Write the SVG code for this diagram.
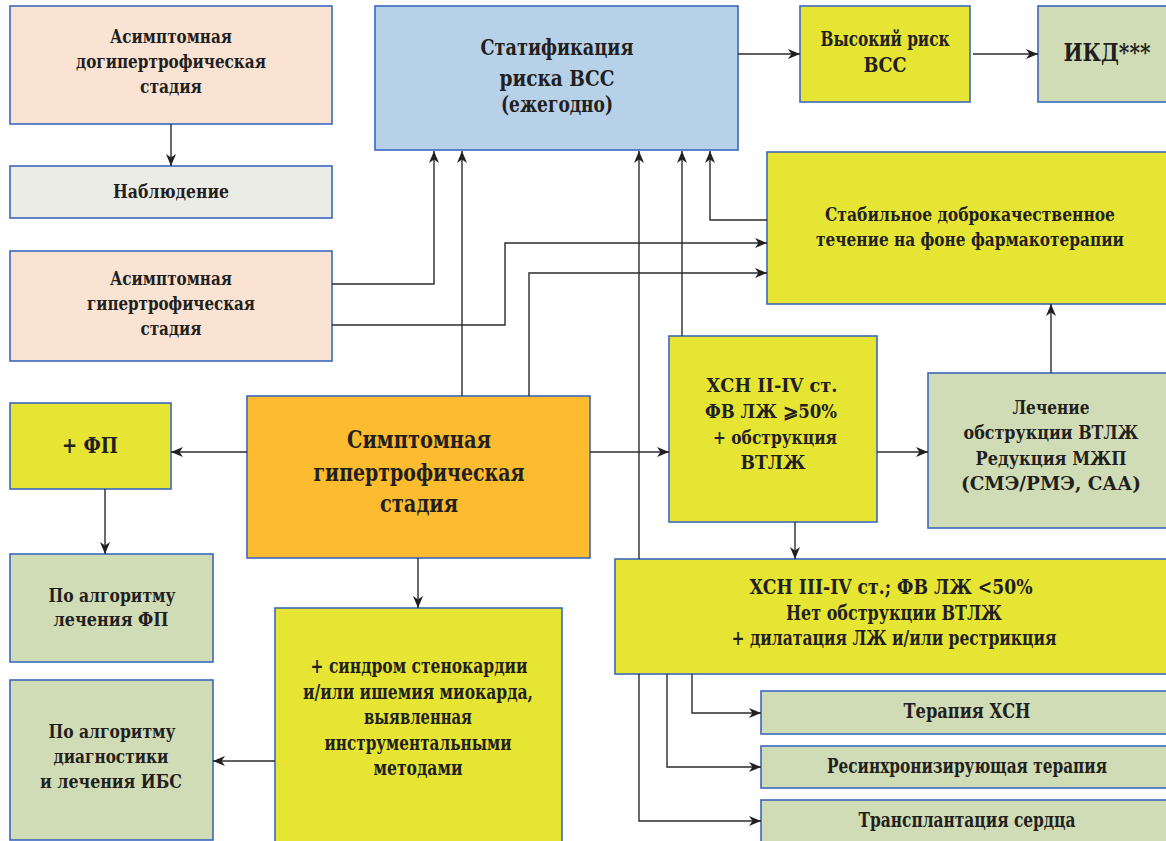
<svg xmlns="http://www.w3.org/2000/svg" width="1166" height="841" viewBox="0 0 1166 841">
  <defs>
    <style>
      .box { stroke: #3a68bd; stroke-width: 1.6; }
      .peach { fill: #fae3d3; }
      .grey { fill: #ecece7; }
      .blue { fill: #b7d1e8; }
      .yellow { fill: #e6e534; }
      .sage { fill: #d0dcb5; }
      .orange { fill: #fdbc2f; }
      text { font-family: "DejaVu Serif Condensed", "DejaVu Serif", serif; font-weight: bold; fill: #231f20; text-anchor: middle; }
      .s18 { font-size: 18.5px; }
      .s19 { font-size: 19px; }
      .s20 { font-size: 20px; }
      .s22 { font-size: 22px; }
      .s24 { font-size: 24px; }
      .s25 { font-size: 25px; }
      .conn path { fill: none; stroke: #2b2b2b; stroke-width: 1.4; }
    </style>
    <marker id="arrow" viewBox="0 0 12 10" refX="12" refY="5" markerWidth="12" markerHeight="10" markerUnits="userSpaceOnUse" orient="auto">
      <path d="M0,0 L12,5 L0,10 L3.5,5 z" fill="#231f20"/>
    </marker>
  </defs>

  <rect width="1166" height="841" fill="#ffffff"/>

  <!-- nodes -->
  <g id="asym-pre">
    <rect class="box peach" x="10" y="6" width="322" height="118"/>
    <text class="s19" x="171" y="43" textLength="122" lengthAdjust="spacingAndGlyphs">Асимптомная</text>
    <text class="s19" x="171" y="68" textLength="190" lengthAdjust="spacingAndGlyphs">догипертрофическая</text>
    <text class="s19" x="171" y="93" textLength="62" lengthAdjust="spacingAndGlyphs">стадия</text>
  </g>
  <g id="observation">
    <rect class="box grey" x="10" y="166" width="322" height="52"/>
    <text class="s19" x="171" y="198" textLength="116" lengthAdjust="spacingAndGlyphs">Наблюдение</text>
  </g>
  <g id="risk-strat">
    <rect class="box blue" x="375" y="6" width="363" height="144"/>
    <text class="s22" x="557" y="55" textLength="153" lengthAdjust="spacingAndGlyphs">Статификация</text>
    <text class="s22" x="557" y="86" textLength="115" lengthAdjust="spacingAndGlyphs">риска ВСС</text>
    <text class="s22" x="557" y="112" textLength="112" lengthAdjust="spacingAndGlyphs">(ежегодно)</text>
  </g>
  <g id="high-risk">
    <rect class="box yellow" x="800" y="6" width="170" height="96"/>
    <text class="s20" x="885" y="46" textLength="129" lengthAdjust="spacingAndGlyphs">Высокий риск</text>
    <text class="s20" x="885" y="72" textLength="43" lengthAdjust="spacingAndGlyphs">ВСС</text>
  </g>
  <g id="icd">
    <rect class="box sage" x="1038" y="6" width="140" height="96"/>
    <text class="s24" x="1107" y="61" textLength="87" lengthAdjust="spacingAndGlyphs">ИКД***</text>
  </g>
  <g id="stable">
    <rect class="box yellow" x="767" y="152" width="410" height="152"/>
    <text class="s19" x="970" y="221" textLength="290" lengthAdjust="spacingAndGlyphs">Стабильное доброкачественное</text>
    <text class="s19" x="970" y="246" textLength="308" lengthAdjust="spacingAndGlyphs">течение на фоне фармакотерапии</text>
  </g>
  <g id="asym-hyper">
    <rect class="box peach" x="10" y="251" width="322" height="110"/>
    <text class="s19" x="171" y="285" textLength="122" lengthAdjust="spacingAndGlyphs">Асимптомная</text>
    <text class="s19" x="171" y="310" textLength="168" lengthAdjust="spacingAndGlyphs">гипертрофическая</text>
    <text class="s19" x="171" y="335" textLength="61" lengthAdjust="spacingAndGlyphs">стадия</text>
  </g>
  <g id="sympt-hyper">
    <rect class="box orange" x="247" y="396" width="343" height="162"/>
    <text class="s25" x="419" y="448" textLength="144" lengthAdjust="spacingAndGlyphs">Симптомная</text>
    <text class="s25" x="419" y="481" textLength="211" lengthAdjust="spacingAndGlyphs">гипертрофическая</text>
    <text class="s25" x="419" y="512" textLength="78" lengthAdjust="spacingAndGlyphs">стадия</text>
  </g>
  <g id="af">
    <rect class="box yellow" x="10" y="403" width="161" height="86"/>
    <text class="s22" x="90" y="453" textLength="56" lengthAdjust="spacingAndGlyphs">+ ФП</text>
  </g>
  <g id="af-algo">
    <rect class="box sage" x="10" y="554" width="203" height="108"/>
    <text class="s19" x="112" y="602" textLength="127" lengthAdjust="spacingAndGlyphs">По алгоритму</text>
    <text class="s19" x="111" y="626" textLength="115" lengthAdjust="spacingAndGlyphs">лечения ФП</text>
  </g>
  <g id="ihd-algo">
    <rect class="box sage" x="10" y="680" width="203" height="160"/>
    <text class="s19" x="112" y="738" textLength="127" lengthAdjust="spacingAndGlyphs">По алгоритму</text>
    <text class="s19" x="111" y="763" textLength="115" lengthAdjust="spacingAndGlyphs">диагностики</text>
    <text class="s19" x="111" y="788" textLength="142" lengthAdjust="spacingAndGlyphs">и лечения ИБС</text>
  </g>
  <g id="angina">
    <rect class="box yellow" x="275" y="608" width="287" height="240"/>
    <text class="s20" x="419" y="673" textLength="217" lengthAdjust="spacingAndGlyphs">+ синдром стенокардии</text>
    <text class="s20" x="418" y="699" textLength="230" lengthAdjust="spacingAndGlyphs">и/или ишемия миокарда,</text>
    <text class="s20" x="418" y="724" textLength="108" lengthAdjust="spacingAndGlyphs">выявленная</text>
    <text class="s20" x="418" y="750" textLength="187" lengthAdjust="spacingAndGlyphs">инструментальными</text>
    <text class="s20" x="418" y="775" textLength="89" lengthAdjust="spacingAndGlyphs">методами</text>
  </g>
  <g id="hf-obstr">
    <rect class="box yellow" x="669" y="336" width="208" height="186"/>
    <text class="s19" x="772" y="392" textLength="131" lengthAdjust="spacingAndGlyphs">ХСН II-IV ст.</text>
    <text class="s19" x="771" y="418" textLength="132" lengthAdjust="spacingAndGlyphs">ФВ ЛЖ ⩾50%</text>
    <text class="s19" x="775" y="444" textLength="124" lengthAdjust="spacingAndGlyphs">+ обструкция</text>
    <text class="s19" x="773" y="469" textLength="65" lengthAdjust="spacingAndGlyphs">ВТЛЖ</text>
  </g>
  <g id="obstr-treat">
    <rect class="box sage" x="928" y="373" width="250" height="155"/>
    <text class="s18" x="1051" y="414" textLength="77" lengthAdjust="spacingAndGlyphs">Лечение</text>
    <text class="s18" x="1051" y="439" textLength="175" lengthAdjust="spacingAndGlyphs">обструкции ВТЛЖ</text>
    <text class="s18" x="1051" y="465" textLength="151" lengthAdjust="spacingAndGlyphs">Редукция МЖП</text>
    <text class="s18" x="1051" y="490" textLength="180" lengthAdjust="spacingAndGlyphs">(СМЭ/РМЭ, САА)</text>
  </g>
  <g id="hf-dilat">
    <rect class="box yellow" x="615" y="559" width="562" height="115"/>
    <text class="s20" x="891" y="594" textLength="283" lengthAdjust="spacingAndGlyphs">ХСН III-IV ст.; ФВ ЛЖ &lt;50%</text>
    <text class="s20" x="894" y="620" textLength="216" lengthAdjust="spacingAndGlyphs">Нет обструкции ВТЛЖ</text>
    <text class="s20" x="894" y="645" textLength="325" lengthAdjust="spacingAndGlyphs">+ дилатация ЛЖ и/или рестрикция</text>
  </g>
  <g id="hf-therapy">
    <rect class="box sage" x="761" y="691" width="416" height="43"/>
    <text class="s20" x="967" y="718" textLength="127" lengthAdjust="spacingAndGlyphs">Терапия ХСН</text>
  </g>
  <g id="crt">
    <rect class="box sage" x="761" y="746" width="416" height="42"/>
    <text class="s20" x="967" y="773" textLength="280" lengthAdjust="spacingAndGlyphs">Ресинхронизирующая терапия</text>
  </g>
  <g id="transplant">
    <rect class="box sage" x="761" y="800" width="416" height="50"/>
    <text class="s20" x="967" y="827" textLength="217" lengthAdjust="spacingAndGlyphs">Трансплантация сердца</text>
  </g>

  <!-- connectors -->
  <g id="connectors" class="conn">
    <path d="M171,124 V166" marker-end="url(#arrow)"/>
    <path d="M738,54 H800" marker-end="url(#arrow)"/>
    <path d="M973,54 H1038" marker-end="url(#arrow)"/>
    <path d="M332,284 H434 V151" marker-end="url(#arrow)"/>
    <path d="M332,325 H505 V243 H767" marker-end="url(#arrow)"/>
    <path d="M462,396 V151" marker-end="url(#arrow)"/>
    <path d="M529,396 V273 H767" marker-end="url(#arrow)"/>
    <path d="M639,559 V151" marker-end="url(#arrow)"/>
    <path d="M682,336 V151" marker-end="url(#arrow)"/>
    <path d="M767,220 H710 V151" marker-end="url(#arrow)"/>
    <path d="M1051,373 V304" marker-end="url(#arrow)"/>
    <path d="M247,452 H171" marker-end="url(#arrow)"/>
    <path d="M590,452 H669" marker-end="url(#arrow)"/>
    <path d="M877,452 H928" marker-end="url(#arrow)"/>
    <path d="M105,489 V554" marker-end="url(#arrow)"/>
    <path d="M418,558 V608" marker-end="url(#arrow)"/>
    <path d="M275,761 H213" marker-end="url(#arrow)"/>
    <path d="M795,522 V559" marker-end="url(#arrow)"/>
    <path d="M692,674 V713 H761" marker-end="url(#arrow)"/>
    <path d="M667,674 V767 H761" marker-end="url(#arrow)"/>
    <path d="M639,674 V821 H761" marker-end="url(#arrow)"/>
  </g>
</svg>
